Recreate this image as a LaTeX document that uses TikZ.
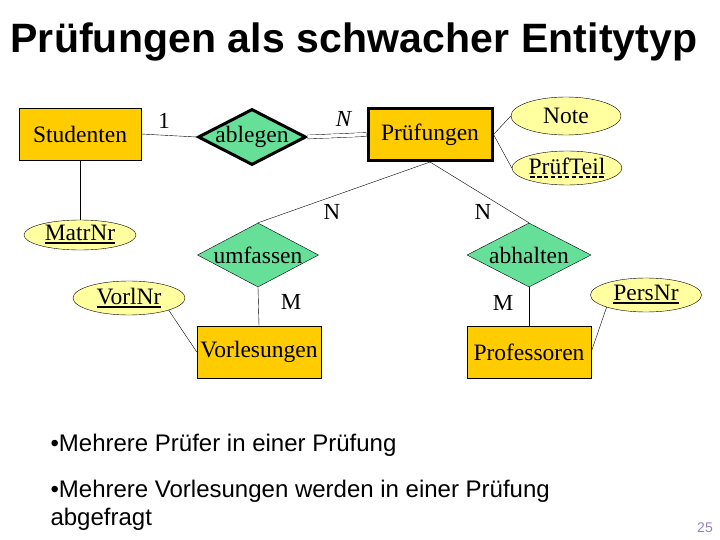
\documentclass[tikz,border=0pt]{standalone}
\usepackage{fontspec}
\setmainfont{Liberation Serif}
\newfontfamily\slidefont{Liberation Sans}
\newfontfamily\titlefont[LetterSpace=0.3]{Liberation Sans}
\usetikzlibrary{shapes.geometric}

\definecolor{entfill}{RGB}{255,204,0}
\definecolor{relfill}{RGB}{102,224,153}
\definecolor{attfill}{RGB}{255,255,160}
\definecolor{pagegray}{RGB}{150,130,195}

% key attribute: solid underline, partial key: dashed underline
\newcommand\keyattr[1]{\setbox0=\hbox{#1}\rlap{\rule[-3.5pt]{\wd0}{2pt}}\box0}
\newcommand\partkey[1]{\setbox0=\hbox{#1}\rlap{\hbox to \wd0{\xleaders\hbox to 6.5pt{\hss\rule[-4pt]{4.5pt}{2pt}\hss}\hfill}}\box0}

\begin{document}
\begin{tikzpicture}[x=1pt, y=-1pt,
    entity/.style={draw, fill=entfill, minimum width=124pt, minimum height=52pt, inner sep=0pt, font=\fontsize{23.5}{26}\selectfont},
    relship/.style={draw, diamond, fill=relfill, minimum height=64pt, inner sep=0pt, label={[font=\fontsize{23.5}{26}\selectfont]center:#1}},
    attrib/.style={draw, ellipse, fill=attfill, minimum width=112pt, minimum height=34pt, inner sep=0pt, font=\fontsize{23.5}{26}\selectfont},
    card/.style={font=\fontsize{23}{26}\selectfont}]
    \useasboundingbox (0,0) rectangle (720,540);

    \node[anchor=base west, font=\titlefont\bfseries\fontsize{41}{46}\selectfont] (title) at (7,53) {Prüfungen als schwacher Entitytyp};

    \node[entity, minimum width=122pt] (stud) at (80,134) {Studenten};
    \node[entity, line width=3pt, minimum width=124pt] (pruef) at (430,134.5) {Prüfungen};
    \node[entity] (vorl) at (259,352) {Vorlesungen};
    \node[entity] (prof) at (529,352) {Professoren};

    \node[relship=ablegen, line width=3pt, minimum width=108pt, minimum height=56pt] (ableg) at (252,137) {};
    \node[relship=umfassen, minimum width=121pt] (umf) at (258,255) {};
    \node[relship=abhalten, minimum width=124pt] (abh) at (529,255) {};

    \node[attrib, minimum height=38pt, minimum width=110pt] (note) at (566,116) {Note};
    \node[attrib, minimum width=110pt] (teil) at (567,168) {\partkey{PrüfTeil}};
    \node[attrib, minimum height=30pt] (matr) at (80,235) {\keyattr{MatrNr}};
    \node[attrib] (vnr) at (129,298) {\keyattr{VorlNr}};
    \node[attrib, minimum width=111pt] (pnr) at (646,295) {\keyattr{PersNr}};

    \draw (stud.east) -- (ableg.west);
    \draw[double, double distance=3.5pt] (ableg.east) -- (pruef.west);
    \draw (stud.south) -- (matr.north);
    \draw (pruef.east) -- (note.west);
    \draw (pruef.east) -- (teil.west);
    \draw (pruef.south) -- (umf.north);
    \draw (pruef.south) -- (abh.north);
    \draw (umf.south) -- (vorl.north);
    \draw (abh.south) -- (prof.north);
    \draw (vnr.south east) -- (vorl.west);
    \draw (pnr.south west) -- (prof.east);

    \node[card] (c1) at (164,121) {1};
    \node[card] (c2) at (344,119) {\textit{N}};
    \node[card] (c3) at (332,212) {N};
    \node[card] (c4) at (483,212) {N};
    \node[card] (c5) at (291,302) {M};
    \node[card] (c6) at (503,303) {M};

    \node[anchor=base west, font=\slidefont\fontsize{24}{28}\selectfont] (pt1) at (47,451) {•Mehrere Prüfer in einer Prüfung};
    \node[anchor=base west, font=\slidefont\fontsize{24}{28}\selectfont] (pt2) at (47,497) {•Mehrere Vorlesungen werden in einer Prüfung};
    \node[anchor=base west, font=\slidefont\fontsize{24}{28}\selectfont] (pt3) at (47,525) {abgefragt};

    \node[font=\slidefont\fontsize{14}{16}\selectfont, text=pagegray] (page) at (705,528) {25};
\end{tikzpicture}
\end{document}
